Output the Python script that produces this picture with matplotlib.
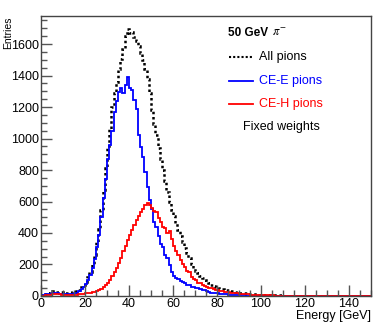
import numpy as np
import matplotlib.pyplot as plt

plt.rcParams['font.family'] = ['Liberation Sans', 'DejaVu Sans']

# 1 GeV bins from 0 to 150
edges = np.arange(0, 151, 1)

ce_e = [5, 8, 10, 12, 15, 20, 22, 18, 15, 14,
        12, 10, 10, 12, 15, 18, 22, 30, 42, 55,
        75, 100, 135, 180, 235, 310, 390, 500, 620, 740,
        870, 960, 1050, 1170, 1240, 1295, 1320, 1290, 1340, 1390,
        1320, 1310, 1245, 1185, 1025, 945, 880, 790, 690, 610,
        550, 470, 440, 380, 330, 310, 260, 240, 195, 150,
        130, 115, 110, 95, 88, 80, 72, 68, 60, 58,
        52, 48, 45, 40, 35, 32, 28, 22, 20, 18,
        16, 14, 13, 12, 10, 9, 8, 7, 6, 5,
        5, 4, 4, 3, 3, 3, 2, 2, 2, 2,
        2, 1, 1, 1, 1, 1, 1, 1, 1, 1,
        1, 1, 0, 1, 0, 1, 0, 0, 1, 0,
        0, 0, 0, 1, 0, 0, 0, 0, 0, 0,
        0, 0, 0, 0, 0, 0, 0, 0, 0, 0,
        0, 0, 0, 0, 0, 0, 0, 0, 0, 0]

ce_h = [2, 3, 5, 6, 8, 10, 12, 10, 10, 9,
        8, 8, 7, 7, 8, 8, 9, 10, 12, 14,
        16, 18, 20, 24, 28, 32, 38, 45, 55, 70,
        85, 100, 125, 150, 175, 210, 240, 285, 320, 355,
        385, 420, 450, 485, 510, 535, 555, 575, 590, 580,
        560, 540, 535, 495, 470, 440, 430, 400, 410, 360,
        315, 285, 260, 230, 200, 185, 160, 150, 120, 105,
        100, 85, 80, 70, 62, 58, 52, 48, 44, 40,
        36, 33, 30, 28, 27, 24, 22, 20, 19, 18,
        15, 14, 12, 11, 10, 9, 8, 8, 7, 6,
        6, 5, 5, 4, 4, 4, 3, 3, 3, 3,
        2, 2, 2, 2, 2, 2, 1, 1, 1, 1,
        1, 1, 1, 1, 1, 1, 1, 1, 1, 1,
        1, 1, 1, 1, 1, 1, 1, 1, 1, 1,
        1, 1, 1, 1, 1, 1, 1, 1, 1, 1]

all_pions = [7, 11, 15, 18, 23, 30, 34, 28, 25, 23,
             20, 18, 17, 19, 23, 26, 31, 40, 54, 69,
             91, 118, 155, 204, 263, 342, 428, 545, 675, 810,
             955, 1060, 1200, 1290, 1360, 1440, 1505, 1570, 1650, 1695,
             1670, 1675, 1645, 1620, 1590, 1545, 1500, 1440, 1375, 1290,
             1180, 1090, 1020, 940, 870, 800, 730, 660, 600, 545,
             510, 465, 420, 380, 345, 305, 270, 240, 205, 180,
             160, 145, 128, 112, 100, 90, 80, 70, 63, 56,
             50, 46, 43, 40, 38, 35, 32, 30, 27, 25,
             22, 20, 18, 16, 14, 13, 12, 11, 10, 9,
             9, 8, 7, 6, 6, 5, 5, 4, 4, 4,
             3, 3, 3, 3, 2, 2, 2, 2, 2, 2,
             1, 1, 1, 2, 1, 1, 1, 1, 1, 1,
             1, 1, 1, 1, 1, 1, 1, 1, 1, 1,
             1, 1, 1, 1, 1, 1, 1, 1, 1, 1]

fig = plt.figure(figsize=(3.74, 3.28), dpi=100)
ax = fig.add_axes([0.1096, 0.0976, 0.8824, 0.8536])

ax.stairs(all_pions, edges, color='black', lw=1.8, linestyle=(0, (1, 1.1)))
ax.stairs(ce_e, edges, color='#0000ff', lw=1.3)
ax.stairs(ce_h, edges, color='#ff0000', lw=1.3)

ax.set_xlim(0, 150)
ax.set_ylim(0, 1778)
ax.set_xticks(np.arange(0, 141, 20))
ax.set_xticks(np.arange(0, 151, 5), minor=True)
ax.set_yticks(np.arange(0, 1601, 200))
ax.set_yticks(np.arange(0, 1751, 50), minor=True)
ax.tick_params(which='both', direction='in', top=False, right=False,
               labelsize=9, color='#555555', width=1)
ax.tick_params(which='major', length=8, pad=1.5)
ax.tick_params(which='minor', length=4)
for s in ax.spines.values():
    s.set_color('#444444')
    s.set_linewidth(1)

ax.set_ylabel('Entries', fontsize=7.5, loc='top')
ax.yaxis.set_label_coords(-0.085, 1.0)
ax.set_xlabel('Energy [GeV]', fontsize=9, loc='right', labelpad=0)

# legend drawn as text and line samples
ax.text(85, 1668, '50 GeV', fontsize=8.5, fontweight='bold', va='center')
ax.text(105, 1668, r'$\pi^{-}$', fontsize=9, va='center', math_fontfamily='stix')
ax.plot([85.5, 96.5], [1515, 1515], color='black', lw=1.5, linestyle=(0, (1, 1)))
ax.text(99, 1515, 'All pions', fontsize=9, va='center')
ax.plot([85.5, 96.5], [1363, 1363], color='#0000ff', lw=1.3)
ax.text(99, 1363, 'CE-E pions', fontsize=9, va='center', color='#0000ff')
ax.plot([85.5, 96.5], [1217, 1217], color='#ff0000', lw=1.3)
ax.text(99, 1217, 'CE-H pions', fontsize=9, va='center', color='#ff0000')
ax.text(92, 1070, 'Fixed weights', fontsize=9, va='center')

fig.savefig('out.png', dpi=100)
